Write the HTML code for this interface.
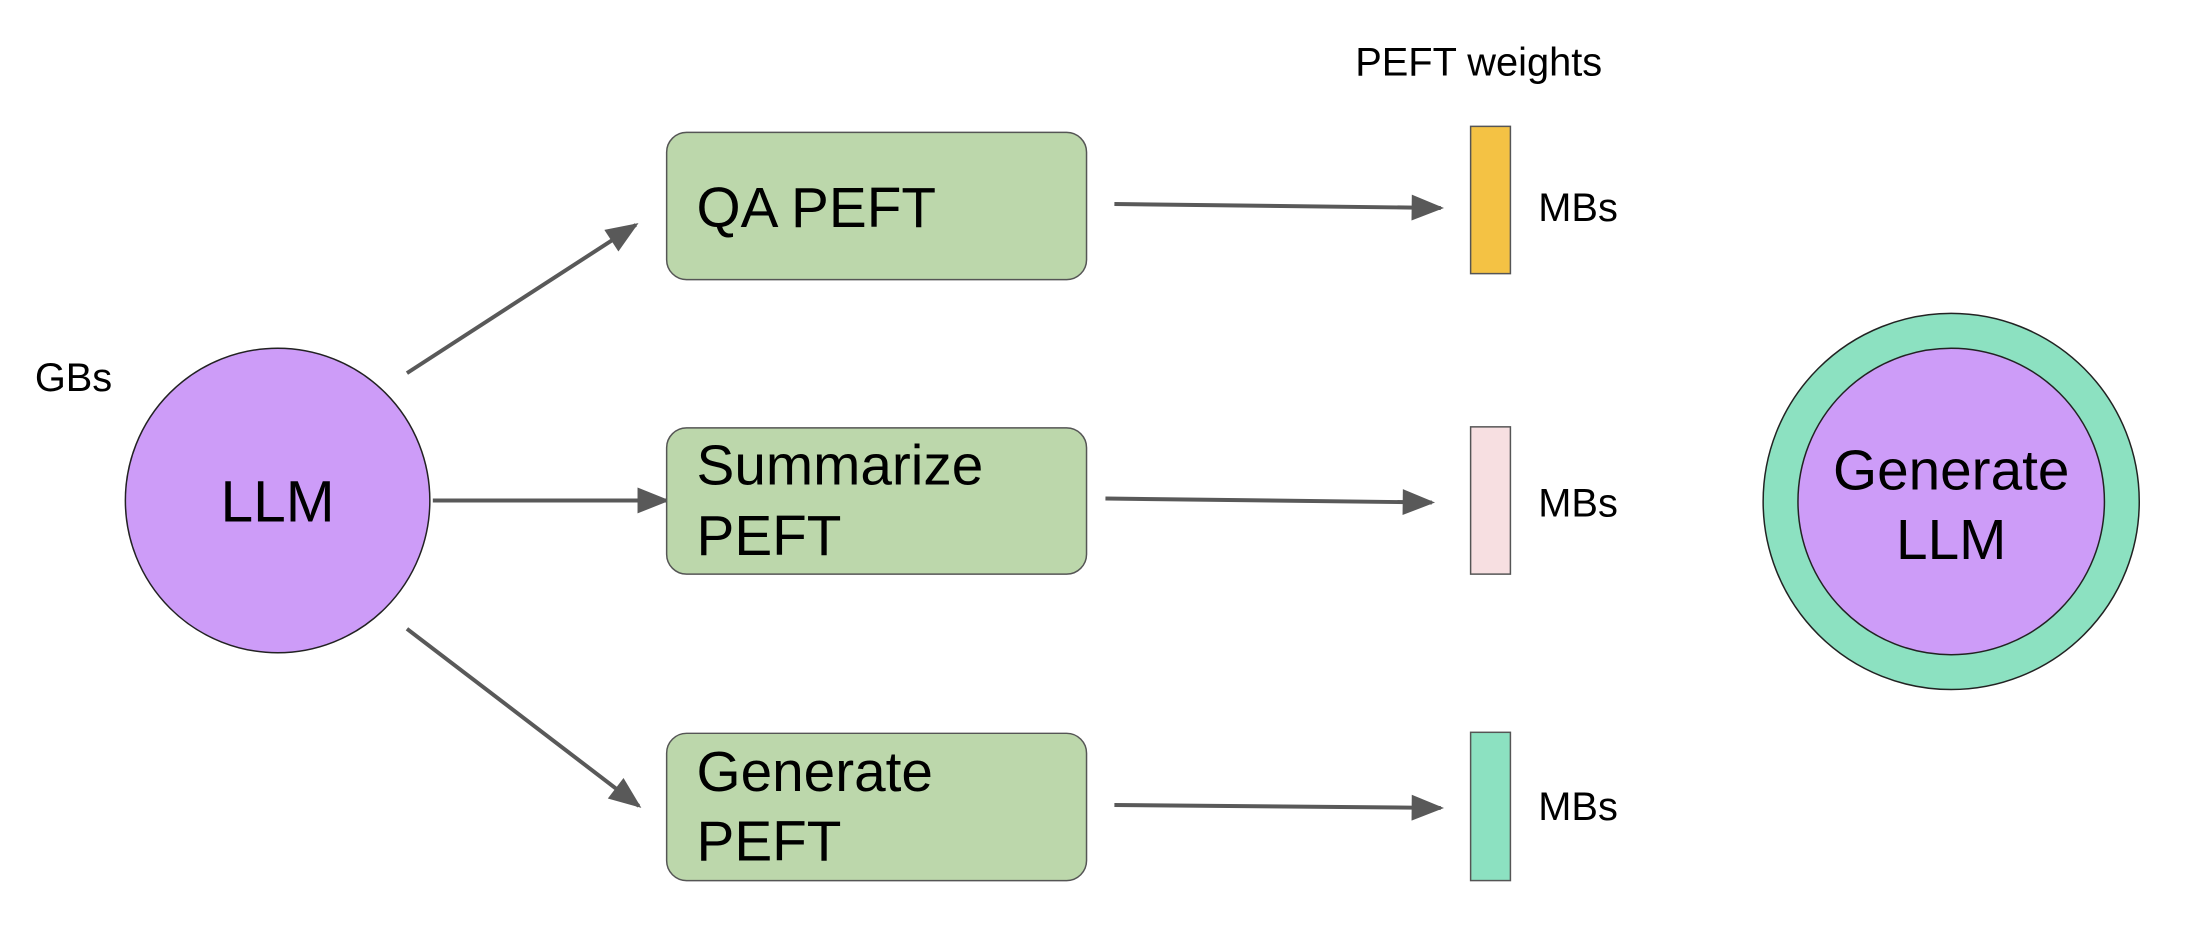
<!DOCTYPE html>
<html><head><meta charset="utf-8"><style>
body{margin:0;background:#fff;}
svg{display:block;font-family:"Liberation Sans",sans-serif;}
</style></head><body>
<svg width="2190" height="932" viewBox="0 0 2190 932" xmlns="http://www.w3.org/2000/svg">
<defs>
<marker id="b" viewBox="0 0 10 8" refX="9" refY="4" markerWidth="34" markerHeight="26" orient="auto" markerUnits="userSpaceOnUse"><path d="M0,0 L10,4 L0,8z" fill="#595959"/></marker></defs>
<g transform="scale(0.995)">
<g stroke="#595959" stroke-width="4" fill="none" marker-end="url(#b)">
<line x1="409" y1="375" x2="639" y2="226"/>
<line x1="435" y1="503" x2="670" y2="503"/>
<line x1="409" y1="632" x2="642" y2="810"/>
<line x1="1120" y1="205" x2="1448" y2="209"/>
<line x1="1111" y1="501" x2="1439" y2="505"/>
<line x1="1120" y1="809" x2="1448" y2="812"/>
</g>
<circle cx="279" cy="503" r="153" fill="#cd9cf8" stroke="#222" stroke-width="1.5"/>
<text x="279" y="524" font-size="59" text-anchor="middle">LLM</text>
<text x="35" y="393" font-size="40">GBs</text>
<g fill="#bcd7ab" stroke="#555" stroke-width="1.5">
<rect x="670" y="133" width="422" height="148" rx="20"/>
<rect x="670" y="430" width="422" height="147" rx="20"/>
<rect x="670" y="737" width="422" height="148" rx="20"/>
</g>
<g font-size="57">
<text x="700" y="228">QA PEFT</text>
<text x="700" y="487">Summarize</text>
<text x="700" y="558">PEFT</text>
<text x="700" y="795">Generate</text>
<text x="700" y="865">PEFT</text>
</g>
<g stroke="#555" stroke-width="1.5">
<rect x="1478" y="127" width="40" height="148" fill="#f4c244"/>
<rect x="1478" y="429" width="40" height="148" fill="#f7dfe1"/>
<rect x="1478" y="736" width="40" height="149" fill="#8ce1c1"/>
</g>
<g font-size="40">
<text x="1362" y="76">PEFT weights</text>
<text x="1546" y="222">MBs</text>
<text x="1546" y="519">MBs</text>
<text x="1546" y="824">MBs</text>
</g>
<circle cx="1961" cy="504" r="189" fill="#8ce1c1" stroke="#222" stroke-width="1.5"/>
<circle cx="1961" cy="504" r="154" fill="#cd9cf8" stroke="#222" stroke-width="1.5"/>
<text x="1961" y="492" font-size="57" text-anchor="middle">Generate</text>
<text x="1961" y="562" font-size="57" text-anchor="middle">LLM</text>
</g>
</svg>
</body></html>
